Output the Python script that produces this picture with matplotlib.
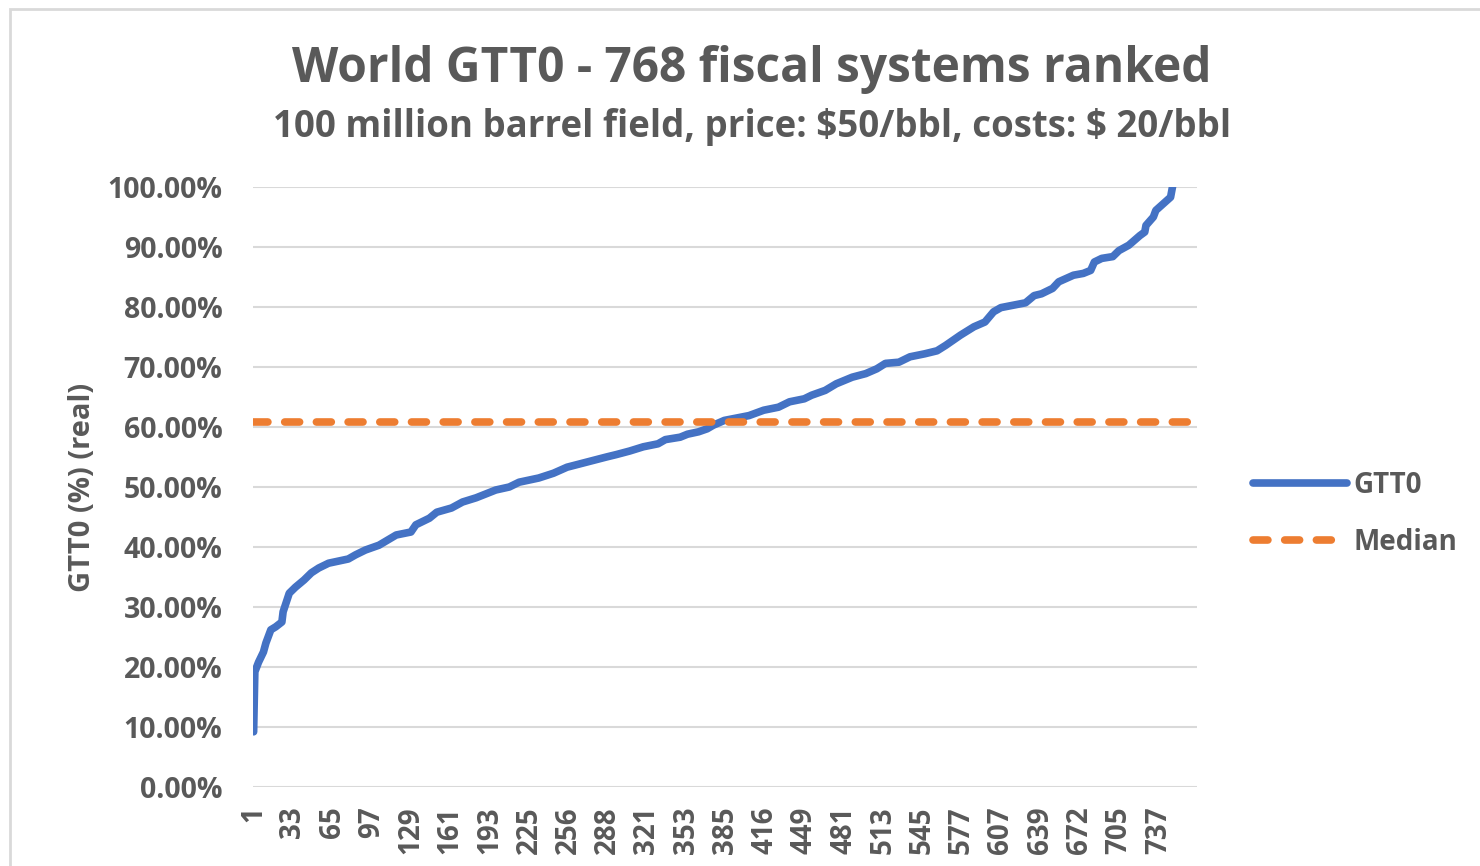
import matplotlib.pyplot as plt
from matplotlib.patches import Rectangle

#%% DATA

# rank position (1..768) and GTT0 value (%) at that rank
rank = [1, 2, 5, 9, 11, 15, 19, 24, 25, 30, 35, 42, 48, 54, 62, 78, 84, 92,
        103, 117, 129, 133, 144, 150, 162, 171, 182, 198, 209, 217, 233, 245,
        256, 288, 296, 307, 318, 330, 336, 348, 354, 363, 370, 375, 384, 399,
        404, 416, 428, 437, 449, 455, 466, 475, 488, 499, 508, 515, 526, 535,
        547, 557, 564, 576, 587, 596, 603, 609, 629, 636, 642, 651, 656, 668,
        676, 682, 685, 691, 700, 705, 713, 722, 726, 727, 733, 735, 741, 747,
        749, 752, 755, 758, 761, 764, 768]
gtt0 = [9.2, 19.2, 20.8, 22.5, 24.0, 26.2, 26.7, 27.5, 29.2, 32.3, 33.3, 34.5,
        35.7, 36.5, 37.3, 38.0, 38.7, 39.5, 40.3, 42.0, 42.5, 43.7, 44.8, 45.8,
        46.5, 47.5, 48.2, 49.5, 50.0, 50.8, 51.5, 52.3, 53.3, 55.0, 55.4, 56.0,
        56.7, 57.2, 57.9, 58.3, 58.8, 59.2, 59.7, 60.3, 61.1, 61.7, 61.9, 62.8,
        63.3, 64.2, 64.7, 65.3, 66.1, 67.2, 68.3, 68.9, 69.7, 70.6, 70.8, 71.7,
        72.2, 72.7, 73.6, 75.3, 76.7, 77.5, 79.2, 79.9, 80.7, 81.9, 82.2, 83.1,
        84.2, 85.3, 85.6, 86.1, 87.5, 88.1, 88.4, 89.4, 90.3, 91.9, 92.5, 93.6,
        95.0, 96.1, 97.2, 98.3, 100.5, 103.0, 105.0, 108.0, 111.0, 116.0, 125.0]
median_gtt0 = 60.8

n_systems = 768
xtick_pos = [1, 33, 65, 97, 129, 161, 193, 225, 257, 289, 321, 353, 385, 417,
             449, 481, 513, 545, 577, 609, 641, 673, 705, 737]
xtick_labels = ['1', '33', '65', '97', '129', '161', '193', '225', '256', '288',
                '321', '353', '385', '416', '449', '481', '513', '545', '577',
                '607', '639', '672', '705', '737']
ytick_vals = [0, 10, 20, 30, 40, 50, 60, 70, 80, 90, 100]

#%% PLOT

plt.rcParams['font.family'] = ['Open Sans', 'DejaVu Sans']
grey = '#595959'

fig = plt.figure(figsize=(14.8, 8.66), dpi=100)
ax = fig.add_axes([253/1480, 1-787/866, (1197-253)/1480, 600/866])

# light chart-area border like the Excel export
fig.patches.append(Rectangle((10/1480, -0.1), 1.2, 1.1-9/866, transform=fig.transFigure,
                             fill=False, edgecolor='#d9d9d9', linewidth=2))

for v in ytick_vals:
    ax.axhline(v, color='#d9d9d9', linewidth=1.5, zorder=0)

ax.plot(rank, gtt0, color='#4472C4', linewidth=5.5, solid_capstyle='round',
        solid_joinstyle='round', label='GTT0', zorder=3)
ax.axhline(median_gtt0, color='#ED7D31', linewidth=5.5, linestyle=(0, (1.95, 2.2)),
           dash_capstyle='round', label='Median', zorder=4)

ax.set_xlim(0.5, n_systems + 0.5)
ax.set_ylim(0, 100)
for s in ax.spines.values():
    s.set_visible(False)

ax.set_yticks(ytick_vals)
ax.set_yticklabels([f'{v:.2f}%' for v in ytick_vals])
ax.set_xticks(xtick_pos)
ax.set_xticklabels(xtick_labels, rotation=90)
ax.tick_params(length=0, colors=grey, labelsize=20)
ax.tick_params(axis='y', labelsize=20.5, pad=22)
ax.tick_params(axis='x', pad=14)
for lbl in ax.get_xticklabels() + ax.get_yticklabels():
    lbl.set_fontweight('bold')

ax.set_ylabel('GTT0 (%) (real)', fontsize=21, fontweight='bold', color=grey)
ax.yaxis.set_label_coords(-156/944, 0.5)

fig.text(752/1480, 1-70/866, 'World GTT0 - 768 fiscal systems ranked',
         ha='center', va='center', fontsize=34.5, fontweight='bold', color=grey)
fig.text(752/1480, 1-127/866, r'100 million barrel field, price: \$50/bbl, costs: \$ 20/bbl',
         ha='center', va='center', fontsize=26.4, fontweight='bold', color=grey)

leg = ax.legend(loc='center left', bbox_to_anchor=(1228/1480, 1-514/866),
                bbox_transform=fig.transFigure, frameon=False, fontsize=20,
                handlelength=3.4, handletextpad=0.2, labelspacing=1.0)
for t in leg.get_texts():
    t.set_color(grey)
    t.set_fontweight('bold')

plt.savefig('out.png', dpi=100)
